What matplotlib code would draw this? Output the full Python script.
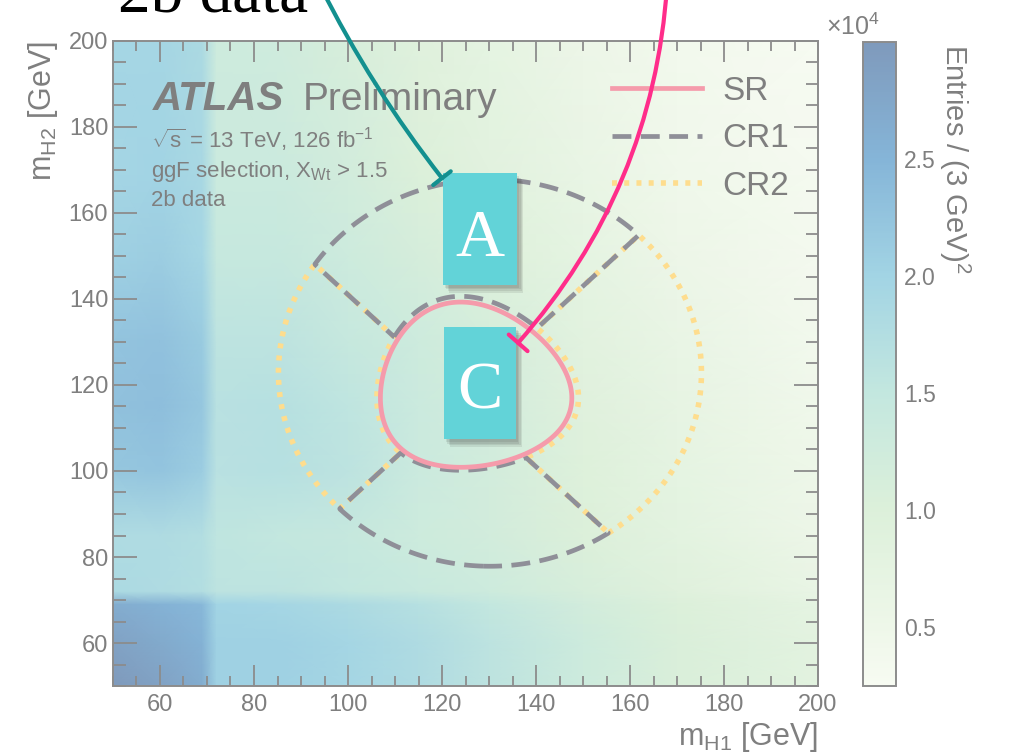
import numpy as np
import matplotlib
matplotlib.use("Agg")
import matplotlib.pyplot as plt
from matplotlib.colors import LinearSegmentedColormap, Normalize
from matplotlib.lines import Line2D
from matplotlib.patches import Rectangle
from matplotlib.ticker import MultipleLocator
import matplotlib.patheffects as pe

plt.rcParams['font.family'] = ['Liberation Sans', 'DejaVu Sans']
plt.rcParams['mathtext.fontset'] = 'custom'
plt.rcParams['mathtext.rm'] = 'Liberation Sans'
plt.rcParams['mathtext.it'] = 'Liberation Sans:italic'
plt.rcParams['mathtext.bf'] = 'Liberation Sans:bold'
plt.rcParams['mathtext.default'] = 'regular'

# ---- data ----
# 2b data map: node positions (GeV) and entries there (x 10^4)
m_h1_nodes = [50, 60, 69, 72, 85, 100, 115, 130, 150, 170, 200]
m_h2_nodes = [50, 60, 69, 72, 85, 100, 115, 130, 150, 170, 200]
entries = [
    [3.00, 2.85, 2.65, 2.05, 2.05, 1.95, 1.80, 1.60, 1.30, 1.05, 0.80],  # m_H2 = 50
    [2.85, 2.70, 2.55, 2.05, 2.05, 1.95, 1.80, 1.60, 1.30, 1.05, 0.80],  # 60
    [2.65, 2.55, 2.45, 2.00, 1.95, 1.85, 1.70, 1.50, 1.20, 1.00, 0.75],  # 69
    [1.85, 1.80, 1.75, 1.60, 1.60, 1.50, 1.40, 1.30, 1.10, 0.90, 0.65],  # 72
    [1.80, 1.80, 1.75, 1.55, 1.50, 1.45, 1.30, 1.20, 1.00, 0.80, 0.55],  # 85
    [2.20, 2.25, 2.10, 1.65, 1.70, 1.60, 1.35, 1.20, 0.95, 0.75, 0.50],  # 100
    [2.30, 2.35, 2.20, 1.65, 1.70, 1.55, 1.35, 1.20, 0.90, 0.70, 0.45],  # 115
    [2.25, 2.30, 2.15, 1.60, 1.60, 1.45, 1.30, 1.15, 0.85, 0.65, 0.40],  # 130
    [2.05, 2.10, 1.95, 1.45, 1.45, 1.30, 1.15, 0.95, 0.75, 0.55, 0.35],  # 150
    [1.95, 2.00, 1.90, 1.35, 1.35, 1.20, 1.00, 0.85, 0.65, 0.45, 0.30],  # 170
    [1.95, 1.95, 1.85, 1.30, 1.25, 1.10, 0.90, 0.75, 0.55, 0.40, 0.27],  # 200
]

# colour scale (x 10^4)
z_min, z_max = 0.25, 3.0
cbar_ticks = [0.5, 1.0, 1.5, 2.0, 2.5]
cmap_values = [0.25, 0.5, 1.0, 1.5, 2.0, 2.5, 3.0]
cmap_colors = ['#f7fbf2', '#eef7e9', '#dcf0da', '#c3e7df', '#a2d4e4', '#85b5d8', '#7f9abc']

# region definitions (GeV)
sr_center = (124.0, 117.0)
sr_resolution = 0.1
sr_cut = 1.6
cr_inner_cut = 1.68     # CR lines sit just outside the SR line
cr_center = (130.2, 122.85)
cr_radius = 45.0

# colours
text_gray = '#7f7f7f'
axis_gray = '#8c8c8c'
sr_color = '#f59bab'
cr1_color = '#8f8f98'
cr2_color = '#fedd8e'
box_color = '#62d3d8'
teal = '#13908f'
pink = '#ff2d8a'

fig = plt.figure(figsize=(10.09, 7.53), dpi=100)
ax = fig.add_axes([113/1009, 1 - 686/753, 705/1009, 645/753])

cmap = LinearSegmentedColormap.from_list(
    'atlas_gnbu', list(zip([(v - z_min) / (z_max - z_min) for v in cmap_values], cmap_colors)))
norm = Normalize(vmin=z_min, vmax=z_max)

X, Y = np.meshgrid(m_h1_nodes, m_h2_nodes)
mesh = ax.pcolormesh(X, Y, np.array(entries), cmap=cmap, norm=norm, shading='gouraud', zorder=0)

# region boundaries from the definitions
gx, gy = np.meshgrid(np.linspace(50, 200, 1201), np.linspace(50, 200, 1201))
x_hh = np.sqrt(((gx - sr_center[0]) / (sr_resolution * gx)) ** 2 +
               ((gy - sr_center[1]) / (sr_resolution * gy)) ** 2)
r_cr = np.sqrt((gx - cr_center[0]) ** 2 + (gy - cr_center[1]) ** 2)
quad = np.abs(gy - sr_center[1]) - np.abs(gx - sr_center[0])
cr1 = np.minimum(np.minimum((x_hh - cr_inner_cut) * 20, cr_radius - r_cr), quad)
cr2 = np.minimum(np.minimum((x_hh - cr_inner_cut) * 20, cr_radius - r_cr), -quad)

cs2 = ax.contour(gx, gy, cr2, levels=[0], colors=[cr2_color], linewidths=4.0, zorder=2)
cs2.set_linestyle((0, (0.9, 1.3)))
cs2.set_capstyle('butt')
cs1 = ax.contour(gx, gy, cr1, levels=[0], colors=[cr1_color], linewidths=3.4, zorder=3)
cs1.set_linestyle((0, (4.0, 2.0)))
cs1.set_capstyle('butt')
ax.contour(gx, gy, x_hh, levels=[sr_cut], colors=[sr_color], linewidths=3.4, zorder=4)

ax.set_xlim(50, 200)
ax.set_ylim(50, 200)
ax.xaxis.set_major_locator(MultipleLocator(20))
ax.yaxis.set_major_locator(MultipleLocator(20))
ax.xaxis.set_minor_locator(MultipleLocator(5))
ax.yaxis.set_minor_locator(MultipleLocator(5))
ax.tick_params(which='both', direction='in', top=True, right=True, color=axis_gray,
               labelcolor=text_gray, labelsize=17, width=1.3)
ax.tick_params(axis='x', which='major', length=15, pad=6)
ax.tick_params(axis='x', which='minor', length=7.5)
ax.tick_params(axis='y', which='major', length=17, pad=3.5)
ax.tick_params(axis='y', which='minor', length=9)
for sp in ax.spines.values():
    sp.set_color(axis_gray)
    sp.set_linewidth(1.4)

ax.set_xlabel('m$_{H1}$ [GeV]', fontsize=22, color=text_gray, ha='right')
ax.xaxis.set_label_coords(1.0, -0.052)
ax.set_ylabel('m$_{H2}$ [GeV]', fontsize=22, color=text_gray, ha='right')
ax.yaxis.set_label_coords(-0.075, 1.0)

# ATLAS label
ax.text(0.0567, 0.893, 'ATLAS', transform=ax.transAxes, fontsize=29, fontweight='bold',
        fontstyle='italic', color=text_gray, va='baseline', zorder=5)
ax.text(0.2695, 0.893, 'Preliminary', transform=ax.transAxes, fontsize=28,
        color=text_gray, va='baseline', zorder=5)
ax.text(0.054, 0.834, r'$\sqrt{s}$ = 13 TeV, 126 fb$^{-1}$', transform=ax.transAxes,
        fontsize=16, color=text_gray, va='baseline', zorder=5)
ax.text(0.054, 0.789, 'ggF selection, X$_{Wt}$ > 1.5', transform=ax.transAxes,
        fontsize=16, color=text_gray, va='baseline', zorder=5)
ax.text(0.054, 0.744, '2b data', transform=ax.transAxes,
        fontsize=16, color=text_gray, va='baseline', zorder=5)

# legend
handles = [
    Line2D([], [], color=sr_color, lw=3.4),
    Line2D([], [], color=cr1_color, lw=3.4, dashes=(4.0, 2.0), dash_capstyle='butt'),
    Line2D([], [], color=cr2_color, lw=4.0, dashes=(0.9, 1.3), dash_capstyle='butt'),
]
leg = ax.legend(handles, ['SR', 'CR1', 'CR2'], loc='upper left', bbox_to_anchor=(0.708, 0.946),
                frameon=False, fontsize=24, labelcolor=text_gray, handlelength=2.7,
                handletextpad=0.6, labelspacing=0.5, borderpad=0, borderaxespad=0)
leg.set_zorder(4)

# A / C boxes with a soft drop shadow
shadow = [pe.SimplePatchShadow(offset=(o, -1.3 * o), shadow_rgbFace='#333333', alpha=0.10)
          for o in (1.5, 2.5, 3.5, 4.5)] + [pe.Normal()]
for (x0, y0, w, h, label, base) in [(120.2, 143.3, 15.8, 26.0, 'A', 150.0),
                                    (120.4, 107.4, 15.3, 26.1, 'C', 114.6)]:
    ax.add_patch(Rectangle((x0, y0), w, h, facecolor=box_color, edgecolor='none',
                           zorder=5, path_effects=shadow))
    ax.text(x0 + w / 2, base, label, fontsize=49, family='Liberation Serif', color='white',
            ha='center', va='baseline', zorder=6)

# curved pointers
ax.annotate('', xy=(120.0, 168.1), xytext=(94.0, 213.0),
            arrowprops=dict(arrowstyle='|-|,widthA=0,widthB=0.4', connectionstyle='arc3,rad=0.05',
                            color=teal, lw=3.0, shrinkA=0, shrinkB=0, mutation_scale=20),
            annotation_clip=False, zorder=7)
ax.annotate('', xy=(136.2, 129.8), xytext=(167.9, 213.0),
            arrowprops=dict(arrowstyle='|-|,widthA=0,widthB=0.45', connectionstyle='arc3,rad=-0.17',
                            color=pink, lw=3.0, shrinkA=0, shrinkB=0, mutation_scale=20),
            annotation_clip=False, zorder=7)

# cut-off title at the top (cut off in the original as well)
fig.text(118/1009, 1 - 11/753, '2b data', fontsize=47, family='Liberation Serif',
         color='black', va='baseline')

# colour bar
cax = fig.add_axes([863/1009, 1 - 686/753, 33/1009, 644/753])
cb = fig.colorbar(mesh, cax=cax, ticks=cbar_ticks)
cb.ax.set_yticklabels(['%.1f' % t for t in cbar_ticks])
cb.ax.tick_params(length=0, labelsize=16.5, labelcolor=text_gray, pad=6)
cb.outline.set_edgecolor(axis_gray)
cb.outline.set_linewidth(1.4)
fig.text(826/1009, 1 - 35/753, r'$\times$10$^{4}$', fontsize=18, color=text_gray, va='baseline')
fig.text(955/1009, 1 - 44/753, 'Entries / (3 GeV)$^{2}$', fontsize=21, color=text_gray,
         rotation=270, ha='center', va='top')

fig.savefig('out.png', dpi=100)
